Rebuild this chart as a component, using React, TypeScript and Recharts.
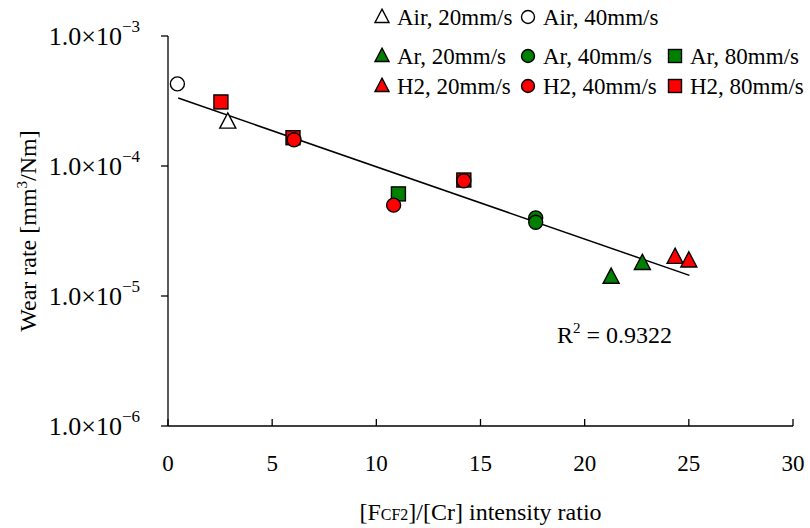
import * as React from "react"
import { ScatterChart, Scatter, XAxis, YAxis } from "recharts"

const FONT = '"Liberation Serif", "Times New Roman", serif'
const GREEN = "#008000"
const RED = "#ff0000"

// x: [F_CF2]/[Cr] intensity ratio, y: wear rate (mm^3/Nm)
const air20 = [{ x: 2.87, y: 2.14e-4 }]
const air40 = [{ x: 0.45, y: 4.28e-4 }]
const ar20 = [
  { x: 21.27, y: 1.37e-5 },
  { x: 22.77, y: 1.75e-5 },
]
const ar40 = [
  { x: 17.65, y: 3.99e-5 },
  { x: 17.65, y: 3.69e-5 },
]
const ar80 = [{ x: 11.06, y: 6.1e-5 }]
const h2_20 = [
  { x: 24.34, y: 1.95e-5 },
  { x: 25.0, y: 1.83e-5 },
]
const h2_40 = [
  { x: 6.05, y: 1.59e-4 },
  { x: 10.83, y: 5.0e-5 },
  { x: 14.2, y: 7.7e-5 },
]
const h2_80 = [
  { x: 2.54, y: 3.11e-4 },
  { x: 6.0, y: 1.65e-4 },
  { x: 14.2, y: 7.8e-5 },
]
// exponential trend line (straight on the log axis)
const trend = [
  { x: 0.49, y: 3.33e-4 },
  { x: 25.03, y: 1.44e-5 },
]

const xTicks = [0, 5, 10, 15, 20, 25, 30]
const yTicks = [1e-6, 1e-5, 1e-4, 1e-3]
const r2Label = "0.9322"

// --- marker shapes ---
const triPath = (cx: number, cy: number, w: number) => {
  const h = w * 0.95
  return `M${cx},${cy - (2 * h) / 3}L${cx + w / 2},${cy + h / 3}L${cx - w / 2},${cy + h / 3}Z`
}

const Tri = ({ cx, cy, fill, w = 16 }: any) => (
  <path d={triPath(cx, cy, w)} fill={fill} stroke="#000" strokeWidth={1.4} strokeLinejoin="miter" />
)
const Circ = ({ cx, cy, fill, r = 7 }: any) => (
  <circle cx={cx} cy={cy} r={r} fill={fill} stroke="#000" strokeWidth={1.4} />
)
const Sq = ({ cx, cy, fill, s = 14 }: any) => (
  <rect x={cx - s / 2} y={cy - s / 2} width={s} height={s} fill={fill} stroke="#000" strokeWidth={1.4} />
)

const shape = (Kind: any, fill: string) => (p: any) => <Kind cx={p.cx} cy={p.cy} fill={fill} />

// --- axis ticks ---
const YTick = ({ x, y, payload }: any) => {
  const exp = Math.round(Math.log10(payload.value))
  return (
    <text x={x - 19} y={y + 9} textAnchor="end" fontFamily={FONT} fontSize={26} fill="#000">
      <tspan>1.0×10</tspan>
      <tspan dy={-13} fontSize={17}>{"\u2212" + Math.abs(exp)}</tspan>
    </text>
  )
}

const XTick = ({ x, y, payload }: any) => (
  <g>
    <line x1={x} y1={y} x2={x} y2={y - 7} stroke="#000" strokeWidth={1.3} />
    <text x={x} y={y + 45} textAnchor="middle" fontFamily={FONT} fontSize={23} fill="#000">
      {payload.value}
    </text>
  </g>
)

const legendRows = [
  { y: 17, items: [
    { Kind: Tri, fill: "#fff", x: 382, label: "Air, 20mm/s" },
    { Kind: Circ, fill: "#fff", x: 528, label: "Air, 40mm/s" },
  ] },
  { y: 56, items: [
    { Kind: Tri, fill: GREEN, x: 382, label: "Ar, 20mm/s" },
    { Kind: Circ, fill: GREEN, x: 528, label: "Ar, 40mm/s" },
    { Kind: Sq, fill: GREEN, x: 675, label: "Ar, 80mm/s" },
  ] },
  { y: 86, items: [
    { Kind: Tri, fill: RED, x: 382, label: "H2, 20mm/s" },
    { Kind: Circ, fill: RED, x: 528, label: "H2, 40mm/s" },
    { Kind: Sq, fill: RED, x: 675, label: "H2, 80mm/s" },
  ] },
]

export default function App() {
  return (
    <div style={{ position: "absolute", left: 0, top: 0, width: 810, height: 528, background: "#fff" }}>
      <ScatterChart
        width={810}
        height={528}
        margin={{ top: 36, right: 17, bottom: 0, left: 0 }}
      >
        <XAxis
          type="number"
          dataKey="x"
          domain={[0, 30]}
          ticks={xTicks}
          interval={0}
          height={102}
          tickSize={0}
          tickMargin={0}
          tickLine={false}
          axisLine={{ stroke: "#000", strokeWidth: 1.3 }}
          tick={<XTick />}
          label={(props: any) => {
            const vb = props.viewBox
            const cx = vb.x + vb.width / 2
            return (
              <text x={cx} y={520} textAnchor="middle" fontFamily={FONT} fontSize={24} fill="#000">
                <tspan>[F</tspan>
                <tspan fontSize={16}>CF2</tspan>
                <tspan>]/[Cr] intensity ratio</tspan>
              </text>
            )
          }}
        />
        <YAxis
          type="number"
          dataKey="y"
          scale="log"
          domain={[1e-6, 1e-3]}
          allowDataOverflow
          ticks={yTicks}
          interval={0}
          width={168}
          tickSize={7}
          tickLine={{ stroke: "#000", strokeWidth: 1.3 }}
          axisLine={{ stroke: "#000", strokeWidth: 1.3 }}
          tick={<YTick />}
          label={(props: any) => {
            const vb = props.viewBox
            const cy = vb.y + vb.height / 2
            return (
              <text
                x={36}
                y={cy}
                transform={`rotate(-90, 36, ${cy})`}
                textAnchor="middle"
                fontFamily={FONT}
                fontSize={24}
                fill="#000"
              >
                <tspan>Wear rate [mm</tspan>
                <tspan dy={-9} fontSize={15}>3</tspan>
                <tspan dy={9}>/Nm]</tspan>
              </text>
            )
          }}
        />
        <Scatter
          data={trend}
          line={{ stroke: "#000", strokeWidth: 1.5 }}
          shape={() => <g />}
          isAnimationActive={false}
        />
        <Scatter data={air20} shape={shape(Tri, "#fff")} isAnimationActive={false} />
        <Scatter data={air40} shape={shape(Circ, "#fff")} isAnimationActive={false} />
        <Scatter data={ar20} shape={shape(Tri, GREEN)} isAnimationActive={false} />
        <Scatter data={ar40} shape={shape(Circ, GREEN)} isAnimationActive={false} />
        <Scatter data={ar80} shape={shape(Sq, GREEN)} isAnimationActive={false} />
        <Scatter data={h2_20} shape={shape(Tri, RED)} isAnimationActive={false} />
        <Scatter data={h2_80} shape={shape(Sq, RED)} isAnimationActive={false} />
        <Scatter data={h2_40} shape={shape(Circ, RED)} isAnimationActive={false} />
      </ScatterChart>

      <svg
        width={810}
        height={528}
        style={{ position: "absolute", left: 0, top: 0, pointerEvents: "none" }}
      >
        {legendRows.map((row) =>
          row.items.map((it) => (
            <g key={it.label}>
              {it.Kind === Tri && <Tri cx={it.x} cy={row.y + 1} fill={it.fill} w={14} />}
              {it.Kind === Circ && <Circ cx={it.x} cy={row.y} fill={it.fill} r={6.5} />}
              {it.Kind === Sq && <Sq cx={it.x} cy={row.y} fill={it.fill} s={13} />}
              <text x={it.x + 15} y={row.y + 8} fontFamily={FONT} fontSize={23} fill="#000">
                {it.label}
              </text>
            </g>
          ))
        )}
        <text x={557} y={343} fontFamily={FONT} fontSize={24} fill="#000">
          <tspan>R</tspan>
          <tspan dy={-10} fontSize={15}>2</tspan>
          <tspan dy={10}>{" = " + r2Label}</tspan>
        </text>
      </svg>
    </div>
  )
}
